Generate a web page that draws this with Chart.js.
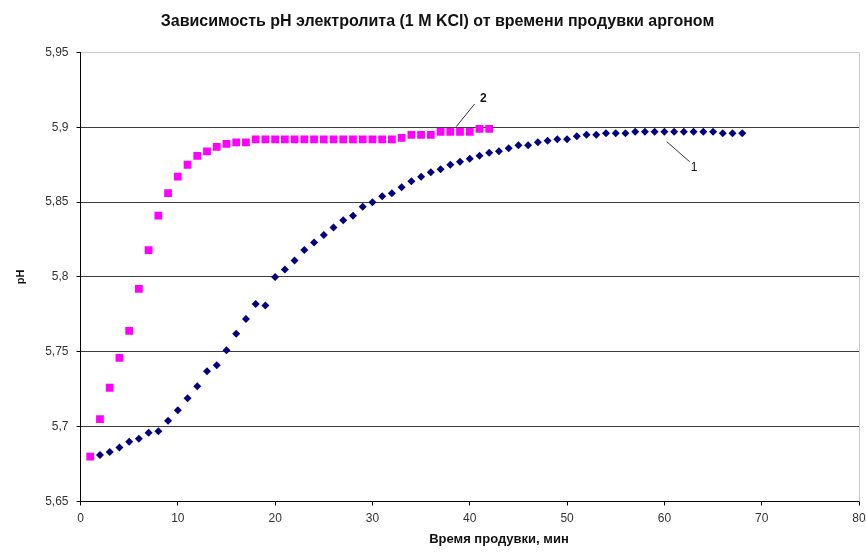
<!DOCTYPE html>
<html lang="ru">
<head>
<meta charset="utf-8">
<title>Зависимость pH электролита от времени продувки аргоном</title>
<script src="https://cdn.jsdelivr.net/npm/chart.js@4.4.1/dist/chart.umd.min.js"></script>
<style>
    html, body { margin: 0; padding: 0; background: #fff; }
    #wrap { width: 866px; height: 553px; }
</style>
</head>
<body>
<div id="wrap"><canvas id="phChart" width="866" height="553"></canvas></div>
<script>
// curve 1 (navy diamonds), minutes and pH
const time1 = [2, 3, 4, 5, 6, 7, 8, 9, 10, 11, 12, 13, 14, 15, 16, 17, 18, 19, 20,
    21, 22, 23, 24, 25, 26, 27, 28, 29, 30, 31, 32, 33, 34, 35, 36, 37, 38, 39, 40,
    41, 42, 43, 44, 45, 46, 47, 48, 49, 50, 51, 52, 53, 54, 55, 56, 57, 58, 59, 60,
    61, 62, 63, 64, 65, 66, 67, 68];
const ph1 = [5.681, 5.683, 5.686, 5.690, 5.692, 5.696, 5.697, 5.704, 5.711, 5.719,
    5.727, 5.737, 5.741, 5.751, 5.762, 5.772, 5.782, 5.781, 5.800,
    5.805, 5.811, 5.818, 5.823, 5.828, 5.833, 5.838, 5.841, 5.847, 5.850,
    5.854, 5.856, 5.860, 5.864, 5.867, 5.870, 5.872, 5.875, 5.877, 5.879,
    5.881, 5.883, 5.884, 5.886, 5.888, 5.888, 5.890, 5.891, 5.892, 5.892,
    5.894, 5.895, 5.895, 5.896, 5.896, 5.896, 5.897, 5.897, 5.897, 5.897,
    5.897, 5.897, 5.897, 5.897, 5.897, 5.896, 5.896, 5.896];

// curve 2 (magenta squares)
const time2 = [1, 2, 3, 4, 5, 6, 7, 8, 9, 10, 11, 12, 13, 14, 15, 16, 17, 18, 19, 20,
    21, 22, 23, 24, 25, 26, 27, 28, 29, 30, 31, 32, 33, 34, 35, 36, 37, 38, 39, 40,
    41, 42];
const ph2 = [5.680, 5.705, 5.726, 5.746, 5.764, 5.792, 5.818, 5.841, 5.856, 5.867,
    5.875, 5.881, 5.884, 5.887, 5.889, 5.890, 5.890, 5.892, 5.892, 5.892,
    5.892, 5.892, 5.892, 5.892, 5.892, 5.892, 5.892, 5.892, 5.892, 5.892,
    5.892, 5.892, 5.893, 5.895, 5.895, 5.895, 5.897, 5.897, 5.897, 5.897,
    5.899, 5.899];

const toPoints = (xs, ys) => xs.map((x, i) => ({ x, y: ys[i] }));

const fontFamily = '"Liberation Sans", Arial, sans-serif';

// curve labels with leader lines, given in axis units
const callouts = [
    { text: '1', bold: false, from: [60.25, 5.8904], to: [62.6, 5.877], at: [63.05, 5.873] },
    { text: '2', bold: true, from: [38.6, 5.9004], to: [40.5, 5.9156], at: [41.4, 5.9194] }
];

const decoratePlugin = {
    id: 'decorate',
    afterDraw(chart) {
        const { ctx, chartArea, scales: { x, y } } = chart;
        ctx.save();

        // plot area border on the right
        ctx.strokeStyle = '#c8c8c8';
        ctx.lineWidth = 1;
        ctx.beginPath();
        ctx.moveTo(Math.round(chartArea.right) + 0.5, chartArea.top);
        ctx.lineTo(Math.round(chartArea.right) + 0.5, chartArea.bottom);
        ctx.stroke();

        ctx.strokeStyle = '#333';
        ctx.fillStyle = '#111';
        ctx.textAlign = 'center';
        ctx.textBaseline = 'middle';
        callouts.forEach(c => {
            ctx.beginPath();
            ctx.moveTo(x.getPixelForValue(c.from[0]), y.getPixelForValue(c.from[1]));
            ctx.lineTo(x.getPixelForValue(c.to[0]), y.getPixelForValue(c.to[1]));
            ctx.stroke();
            ctx.font = (c.bold ? 'bold ' : '') + '12px ' + fontFamily;
            ctx.fillText(c.text, x.getPixelForValue(c.at[0]), y.getPixelForValue(c.at[1]));
        });

        // x axis title, sits a little right of centre as in the original
        ctx.font = 'bold 13px ' + fontFamily;
        ctx.fillText('Время продувки, мин', x.getPixelForValue(43), chart.height - 14);
        ctx.restore();
    }
};

new Chart(document.getElementById('phChart'), {
    type: 'scatter',
    data: {
        datasets: [
            {
                label: '1',
                data: toPoints(time1, ph1),
                pointStyle: 'rectRot',
                pointRadius: 4,
                backgroundColor: '#000080',
                borderColor: '#000080',
                borderWidth: 0,
                showLine: false
            },
            {
                label: '2',
                data: toPoints(time2, ph2),
                pointStyle: 'rect',
                pointRadius: 5.5,
                backgroundColor: '#ff00ff',
                borderColor: '#ff00ff',
                borderWidth: 0,
                showLine: false
            }
        ]
    },
    options: {
        responsive: false,
        animation: false,
        layout: { padding: { left: 16, right: 7, top: 0, bottom: 0 } },
        plugins: {
            legend: { display: false },
            tooltip: { enabled: false },
            title: {
                display: true,
                text: 'Зависимость pH электролита (1 М KCl) от времени продувки аргоном',
                color: '#111',
                font: { family: fontFamily, size: 16, weight: 'bold' },
                padding: { top: 12.4, bottom: 20.9 }
            }
        },
        scales: {
            x: {
                type: 'linear',
                min: 0,
                max: 80,
                afterFit: scale => {
                    scale.height = 51.5;
                    scale.paddingLeft = 0;
                    scale.paddingRight = 0;
                },
                ticks: {
                    stepSize: 10,
                    color: '#333',
                    padding: 6,
                    maxRotation: 0,
                    font: { family: fontFamily, size: 12 }
                },
                grid: {
                    drawOnChartArea: false,
                    drawTicks: true,
                    tickLength: 4,
                    tickColor: '#000'
                },
                border: { color: '#000', width: 1 }
            },
            y: {
                type: 'linear',
                min: 5.65,
                max: 5.95,
                afterFit: scale => {
                    scale.width = 64.5;
                    scale.paddingTop = 0;
                    scale.paddingBottom = 0;
                },
                ticks: {
                    stepSize: 0.05,
                    color: '#333',
                    padding: 8,
                    font: { family: fontFamily, size: 12 },
                    callback: value => String(Math.round(value * 100) / 100).replace('.', ',')
                },
                grid: {
                    color: c => (c.tick && c.tick.value > 5.94 ? '#c8c8c8' : '#3c3c3c'),
                    tickColor: '#000',
                    tickLength: 4
                },
                border: { color: '#000', width: 1 },
                title: {
                    display: true,
                    text: 'pH',
                    color: '#111',
                    font: { family: fontFamily, size: 11, weight: 'bold' },
                    padding: { top: -2, bottom: 0 }
                }
            }
        }
    },
    plugins: [decoratePlugin]
});
</script>
</body>
</html>
